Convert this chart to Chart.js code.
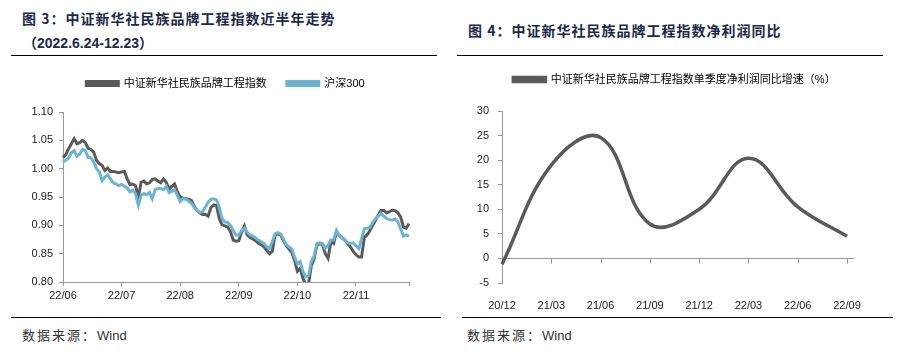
<!DOCTYPE html>
<html>
<head>
<meta charset="utf-8">
<script src="https://cdn.jsdelivr.net/npm/chart.js@4.4.0/dist/chart.umd.min.js"></script>
<style>
  body { margin: 0; background: #fff; }
  #page { position: relative; width: 898px; height: 352px; overflow: hidden; font-family: "Liberation Sans", "Noto Sans CJK SC", sans-serif; }
  .title { position: absolute; font: bold 14px "Noto Sans CJK SC", sans-serif; letter-spacing: 1px; color: #1c2a48; white-space: nowrap; line-height: 16px; }
  .sub { position: absolute; font: bold 14px "Liberation Sans", "Noto Sans CJK SC", sans-serif; color: #1c2a48; white-space: nowrap; line-height: 16px; }
  .rule { position: absolute; height: 0; border-top: 1.5px solid #000; }
  .source { position: absolute; font-size: 13px; color: #333; white-space: nowrap; line-height: 16px; }
  .source span { font-family: "Noto Sans CJK SC", sans-serif; letter-spacing: 2px; }
  canvas { position: absolute; }
</style>
</head>
<body>
<div id="page">
  <div class="title" style="left:22px;top:10px">图 3：中证新华社民族品牌工程指数近半年走势</div>
  <div class="sub" style="left:23px;top:35px">（2022.6.24-12.23）</div>
  <div class="rule" style="left:11px;top:55px;width:426px"></div>
  <div class="title" style="left:468px;top:22px">图 4：中证新华社民族品牌工程指数净利润同比</div>
  <div class="rule" style="left:457px;top:55px;width:426px"></div>

  <canvas id="indexChart" width="450" height="254" style="left:0;top:58px"></canvas>
  <canvas id="profitChart" width="444" height="258" style="left:450px;top:54px"></canvas>

  <div class="rule" style="left:11px;top:317px;width:430px"></div>
  <div class="rule" style="left:462px;top:317px;width:431px"></div>
  <div class="source" style="left:22px;top:327px"><span>数据来源：</span>Wind</div>
  <div class="source" style="left:467px;top:327px"><span>数据来源：</span>Wind</div>
</div>
<script>
// left chart: trading days 2022-06-24 .. 2022-12-23, grouped by month
const months = ["22/06", "22/07", "22/08", "22/09", "22/10", "22/11", "22/12"];
const tradingDays = [5, 21, 23, 21, 16, 22, 17];
const tickEvery = 21;

const brandIndex = [
  1.020, 1.025, 1.035, 1.044, 1.053, 1.044, 1.046, 1.050, 1.046, 1.036,
  1.034, 1.029, 1.015, 1.009, 1.006, 0.997, 1.001, 0.995, 0.995, 0.994,
  0.993, 0.994, 0.995, 0.982, 0.972, 0.973, 0.970, 0.950, 0.976, 0.978,
  0.973, 0.975, 0.981, 0.982, 0.978, 0.975, 0.982, 0.976, 0.963, 0.969,
  0.973, 0.959, 0.950, 0.948, 0.947, 0.946, 0.944, 0.934, 0.926, 0.922,
  0.919, 0.919, 0.916, 0.931, 0.936, 0.935, 0.912, 0.901, 0.899, 0.897,
  0.889, 0.874, 0.872, 0.873, 0.888, 0.899, 0.883, 0.879, 0.876, 0.873,
  0.869, 0.866, 0.862, 0.856, 0.850, 0.854, 0.883, 0.885, 0.883, 0.873,
  0.864, 0.858, 0.852, 0.838, 0.819, 0.824, 0.806, 0.795, 0.797, 0.829,
  0.841, 0.865, 0.868, 0.866, 0.850, 0.842, 0.871, 0.868, 0.888, 0.883,
  0.878, 0.874, 0.868, 0.862, 0.854, 0.848, 0.844, 0.844, 0.879, 0.883,
  0.891, 0.900, 0.909, 0.918, 0.926, 0.926, 0.922, 0.924, 0.927, 0.926,
  0.922, 0.915, 0.897, 0.895, 0.903
];

const hs300 = [
  1.012, 1.015, 1.019, 1.028, 1.032, 1.022, 1.026, 1.034, 1.032, 1.020,
  1.019, 1.012, 1.000, 0.994, 0.979, 0.985, 0.989, 0.982, 0.975, 0.973,
  0.970, 0.972, 0.969, 0.966, 0.959, 0.962, 0.956, 0.936, 0.953, 0.956,
  0.954, 0.958, 0.947, 0.963, 0.965, 0.965, 0.963, 0.969, 0.958, 0.960,
  0.963, 0.953, 0.942, 0.947, 0.946, 0.943, 0.939, 0.932, 0.926, 0.923,
  0.924, 0.932, 0.941, 0.946, 0.947, 0.945, 0.932, 0.912, 0.906, 0.905,
  0.900, 0.891, 0.883, 0.883, 0.891, 0.895, 0.888, 0.883, 0.881, 0.878,
  0.874, 0.871, 0.868, 0.862, 0.859, 0.871, 0.885, 0.887, 0.885, 0.876,
  0.866, 0.862, 0.858, 0.844, 0.832, 0.836, 0.818, 0.809, 0.811, 0.836,
  0.846, 0.868, 0.869, 0.868, 0.859, 0.865, 0.874, 0.874, 0.891, 0.882,
  0.878, 0.874, 0.869, 0.868, 0.869, 0.864, 0.859, 0.876, 0.894, 0.895,
  0.897, 0.905, 0.912, 0.916, 0.921, 0.916, 0.912, 0.910, 0.909, 0.911,
  0.906, 0.894, 0.881, 0.883, 0.881
];

// right chart: quarterly net profit yoy (%)
const quarters = ["20/12", "21/03", "21/06", "21/09", "21/12", "22/03", "22/06", "22/09"];
const profitGrowth = [-1.2, 19, 24.6, 7, 10, 20.4, 10.5, 4.5];

const axisGray = "#999";
const darkGray = "#5a5a5a";
const lightBlue = "#6cb4d4";
const font = { family: '"Liberation Sans", "Noto Sans CJK SC", sans-serif', size: 11 };

const dayLabels = months.flatMap((m, k) => Array(tradingDays[k]).fill(m));

// legend tweaks: extra gap below it and a sideways shift, excel-style placement
function legendPlacer(gap, shift) {
  return {
    id: "legendPlacer",
    afterInit(chart) {
      const legend = chart.legend;
      const fit = legend.fit;
      legend.fit = function () {
        fit.call(this);
        this.height += gap;
      };
    },
    afterLayout(chart) {
      chart.legend.left += shift;
      chart.legend.right += shift;
    }
  };
}

new Chart(document.getElementById("indexChart"), {
  type: "line",
  data: {
    labels: dayLabels,
    datasets: [
      { label: "中证新华社民族品牌工程指数", data: brandIndex, borderColor: darkGray, backgroundColor: darkGray,
        borderWidth: 3, pointRadius: 0, order: 1 },
      { label: "沪深300", data: hs300, borderColor: lightBlue, backgroundColor: lightBlue,
        borderWidth: 3, pointRadius: 0, order: 0 }
    ]
  },
  options: {
    responsive: false,
    animation: false,
    devicePixelRatio: 1,
    layout: { padding: { top: 0, right: 41, bottom: 0, left: 0 } },
    plugins: {
      legend: {
        labels: { boxWidth: 32, boxHeight: 4, padding: 20, color: "#000", font,
          sort: (a, b) => a.datasetIndex - b.datasetIndex }
      },
      tooltip: { enabled: false }
    },
    scales: {
      x: {
        ticks: {
          autoSkip: false, maxRotation: 0, padding: 3, color: "#222", font,
          callback: (v, i) => i % tickEvery === 0 ? dayLabels[i] : (i === dayLabels.length - 1 ? "" : null)
        },
        grid: { drawOnChartArea: false, tickLength: 4, tickColor: axisGray },
        border: { color: axisGray },
        afterFit: s => { s.height = 30; }
      },
      y: {
        min: 0.8, max: 1.1,
        ticks: { stepSize: 0.05, padding: 6, color: "#222", font, callback: v => v.toFixed(2) },
        grid: { drawOnChartArea: false, tickLength: 4, tickColor: axisGray },
        border: { color: axisGray },
        afterFit: s => { s.width = 63; }
      }
    }
  },
  plugins: [legendPlacer(13, 21)]
});

// zero line with small tick marks, like the excel axis crossing at 0
const zeroAxis = {
  id: "zeroAxis",
  beforeDatasetsDraw(chart) {
    const { ctx, chartArea, scales: { x, y } } = chart;
    const y0 = Math.round(y.getPixelForValue(0)) + 0.5;
    ctx.save();
    ctx.strokeStyle = axisGray;
    ctx.lineWidth = 1;
    ctx.beginPath();
    ctx.moveTo(chartArea.left, y0);
    ctx.lineTo(chartArea.right + 7, y0);
    for (let i = 1; i < quarters.length; i++) {
      const px = Math.round(x.getPixelForTick(i)) + 0.5;
      ctx.moveTo(px, y0);
      ctx.lineTo(px, y0 + 5);
    }
    ctx.stroke();
    ctx.restore();
  }
};

new Chart(document.getElementById("profitChart"), {
  type: "line",
  data: {
    labels: quarters,
    datasets: [
      { label: "中证新华社民族品牌工程指数单季度净利润同比增速（%）", data: profitGrowth,
        borderColor: darkGray, backgroundColor: darkGray, borderWidth: 3.5, pointRadius: 0, tension: 0.4 }
    ]
  },
  options: {
    responsive: false,
    animation: false,
    devicePixelRatio: 1,
    layout: { padding: { top: 0, right: 47, bottom: 0, left: 0 } },
    plugins: {
      legend: { labels: { boxWidth: 32, boxHeight: 4, padding: 20, color: "#000", font } },
      tooltip: { enabled: false }
    },
    scales: {
      x: {
        offset: false,
        grid: { display: false },
        border: { display: false },
        ticks: { maxRotation: 0, padding: 8, color: "#222", font },
        afterFit: s => { s.height = 29; }
      },
      y: {
        min: -5, max: 30,
        ticks: { stepSize: 5, padding: 9, color: "#222", font },
        grid: { drawOnChartArea: false, tickLength: 4, tickColor: axisGray },
        border: { color: axisGray },
        afterFit: s => { s.width = 52; }
      }
    }
  },
  plugins: [zeroAxis, legendPlacer(16, 26)]
});
</script>
</body>
</html>
